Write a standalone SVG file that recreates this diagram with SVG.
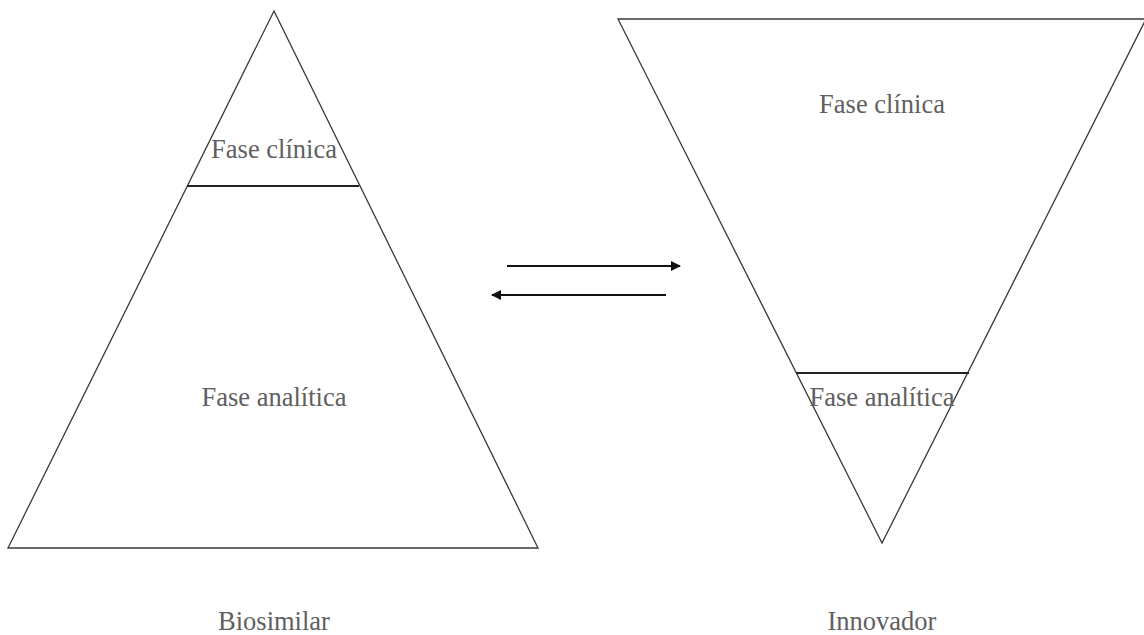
<svg xmlns="http://www.w3.org/2000/svg" width="1144" height="635" viewBox="0 0 1144 635">
<style>
.shape{fill:none;stroke:#3a3a3a;stroke-width:1.3}
.div{stroke:#222;stroke-width:2}
.lbl{font-family:"Liberation Serif","Times New Roman",serif;font-size:26.5px;fill:#606060;text-anchor:middle}
.conn{stroke:#111;stroke-width:2;fill:none}
</style>
<defs>
<marker id="ah" viewBox="0 0 10 10" refX="9" refY="5" markerWidth="5" markerHeight="5" orient="auto" markerUnits="strokeWidth">
<path d="M0,0 L10,5 L0,10 z" fill="#111"/>
</marker>
</defs>
<rect width="1144" height="635" fill="#fff"/>
<g id="biosimilar">
<polygon class="shape" points="274,11 8,548 538,548"/>
<line class="div" x1="187" y1="186" x2="359" y2="186"/>
<text class="lbl" x="274" y="158">Fase clínica</text>
<text class="lbl" x="274" y="406">Fase analítica</text>
<text class="lbl" x="274" y="630">Biosimilar</text>
</g>
<g id="innovador">
<polygon class="shape" points="618,19 1146,19 882,543"/>
<line class="div" x1="796" y1="373" x2="969" y2="373"/>
<text class="lbl" x="882" y="113">Fase clínica</text>
<text class="lbl" x="882" y="406">Fase analítica</text>
<text class="lbl" x="882" y="630">Innovador</text>
</g>
<g id="connectors">
<line class="conn" x1="507" y1="266" x2="680" y2="266" marker-end="url(#ah)"/>
<line class="conn" x1="666" y1="295" x2="492" y2="295" marker-end="url(#ah)"/>
</g>
</svg>
